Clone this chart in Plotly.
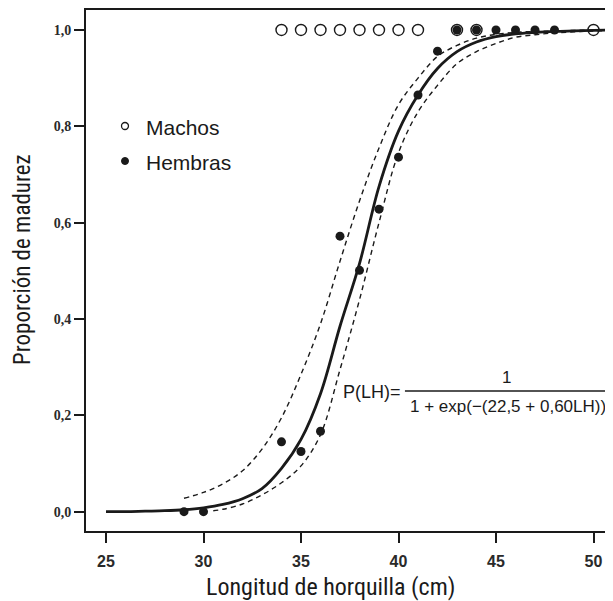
import plotly.graph_objects as go

# Observed proportions
hembras_x = [29, 30, 34, 35, 36, 37, 38, 39, 40, 41, 42, 43, 44, 45, 46, 47, 48]
hembras_y = [0.0, 0.0, 0.145, 0.125, 0.167, 0.572, 0.501, 0.628, 0.736, 0.865, 0.956,
             1.0, 1.0, 1.0, 1.0, 1.0, 1.0]
machos_x = [34, 35, 36, 37, 38, 39, 40, 41, 43, 44, 50]
machos_y = [1.0, 1.0, 1.0, 1.0, 1.0, 1.0, 1.0, 1.0, 1.0, 1.0, 1.0]

# Fitted curve
fit_x = [25, 26, 27, 28, 29, 30, 31, 32, 33, 34, 35, 36, 37, 38, 39, 40, 41, 42, 43,
         44, 45, 46, 47, 48, 49, 50, 51]
fit_y = [0.000, 0.000, 0.001, 0.002, 0.004, 0.008, 0.015, 0.027, 0.048, 0.090, 0.150,
         0.245, 0.385, 0.515, 0.675, 0.790, 0.865, 0.920, 0.955, 0.975, 0.986, 0.992,
         0.995, 0.997, 0.998, 0.999, 1.000]

# Confidence bands
upper_x = [29, 30, 31, 32, 33, 34, 35, 36, 37, 38, 39, 40, 41, 42, 43, 44, 45, 46, 47,
           48, 49, 50, 51]
upper_y = [0.028, 0.040, 0.058, 0.085, 0.130, 0.195, 0.285, 0.390, 0.520, 0.645, 0.755,
           0.845, 0.900, 0.945, 0.968, 0.983, 0.991, 0.995, 0.997, 0.998, 0.999, 1.0, 1.0]
lower_x = [30.5, 31, 32, 33, 34, 35, 36, 37, 38, 39, 40, 41, 42, 43, 44, 45, 46, 47, 48,
           49, 50, 51]
lower_y = [0.002, 0.005, 0.016, 0.035, 0.060, 0.095, 0.160, 0.295, 0.440, 0.600, 0.745,
           0.830, 0.885, 0.930, 0.955, 0.972, 0.985, 0.990, 0.994, 0.996, 0.998, 0.999]

x_ticks = [25, 30, 35, 40, 45, 50]
y_ticks = [0.0, 0.2, 0.4, 0.6, 0.8, 1.0]

INK = "#1a1a1a"
NARROW = "Liberation Sans Narrow, Arial Narrow, Roboto Condensed, sans-serif"
SANS = "Liberation Sans, Arial, sans-serif"

# page has an 8px body margin; figure sized so the plot lands where the reference has it
OFF = 8
ML, MT, MR = 86 - OFF, 10 - OFF, 0
W, H = 613 - OFF, 601 - OFF
MB = H - (531 - OFF)
PW, PH = W - ML - MR, H - MT - MB


def px(xp):
    return (xp - 86) / PW


def py(yp):
    return (531 - yp) / PH


fig = go.Figure()
for bx, by in [(upper_x, upper_y), (lower_x, lower_y)]:
    fig.add_trace(go.Scatter(x=bx, y=by, mode="lines", line_shape="spline",
                             line=dict(color=INK, width=1.4, dash="5px,4px"),
                             showlegend=False, hoverinfo="skip"))
fig.add_trace(go.Scatter(x=fit_x, y=fit_y, mode="lines", line_shape="spline",
                         line=dict(color=INK, width=2.8), showlegend=False))
fig.add_trace(go.Scatter(x=machos_x, y=machos_y, mode="markers", name="Machos",
                         marker=dict(symbol="circle-open", size=11, color=INK,
                                     line=dict(width=1.4, color=INK)),
                         showlegend=False))
fig.add_trace(go.Scatter(x=hembras_x, y=hembras_y, mode="markers", name="Hembras",
                         marker=dict(symbol="circle", size=9, color=INK),
                         showlegend=False))

# Legend drawn manually
fig.add_shape(type="circle", xref="paper", yref="paper",
              x0=px(125 - 3.5), x1=px(125 + 3.5), y0=py(126 + 3.5), y1=py(126 - 3.5),
              line=dict(color=INK, width=1.3), fillcolor="white")
fig.add_shape(type="circle", xref="paper", yref="paper",
              x0=px(125 - 3.5), x1=px(125 + 3.5), y0=py(161 + 3.5), y1=py(161 - 3.5),
              line=dict(color=INK, width=1), fillcolor=INK)
fig.add_annotation(text="Machos", xref="paper", yref="paper",
                   x=px(144), y=py(127), xanchor="left", yanchor="middle",
                   showarrow=False, font=dict(family=SANS, size=21, color=INK))
fig.add_annotation(text="Hembras", xref="paper", yref="paper",
                   x=px(144), y=py(162), xanchor="left", yanchor="middle",
                   showarrow=False, font=dict(family=SANS, size=21, color=INK))

# Equation
fig.add_annotation(text="P(LH)=", x=40.25, y=0.249, xref="x", yref="y",
                   xanchor="right", yanchor="middle", showarrow=False,
                   font=dict(family=SANS, size=18, color=INK))
fig.add_annotation(text="1", x=45.55, y=0.279, xref="x", yref="y",
                   xanchor="center", yanchor="middle", showarrow=False,
                   font=dict(family=SANS, size=17, color=INK))
fig.add_annotation(text="1 + exp(\u2212(22,5 + 0,60LH))", x=45.6, y=0.219, xref="x", yref="y",
                   xanchor="center", yanchor="middle", showarrow=False,
                   font=dict(family=SANS, size=17, color=INK))
fig.add_shape(type="line", xref="x", yref="y", x0=40.33, x1=50.74, y0=0.2506, y1=0.2506,
              line=dict(color=INK, width=1.5))

# Axis titles
fig.add_annotation(text="Longitud de horquilla (cm)", xref="paper", yref="paper",
                   x=px(330), y=py(587), xanchor="center", yanchor="middle",
                   showarrow=False, font=dict(family=NARROW, size=24, color=INK))
fig.add_annotation(text="Proporción de madurez", xref="paper", yref="paper",
                   x=px(22), y=py(260), xanchor="center", yanchor="middle", textangle=-90,
                   showarrow=False, font=dict(family=NARROW, size=23, color=INK))

fig.update_layout(
    width=W, height=H,
    margin=dict(l=ML, r=MR, t=MT, b=MB, autoexpand=False),
    paper_bgcolor="white", plot_bgcolor="white",
    separators=",.",
    showlegend=False,
)
fig.update_xaxes(
    range=[23.974, 51.0], tickvals=x_ticks, ticks="outside", ticklen=10, tickwidth=1.5,
    tickcolor=INK, showline=True, linecolor=INK, linewidth=2, mirror=True,
    showgrid=False, zeroline=False, automargin=False, ticklabelstandoff=5,
    tickfont=dict(family=SANS, size=16, color="#2a2a2a", weight="bold"),
)
fig.update_yaxes(
    range=[-0.0401, 1.0415], tickvals=y_ticks, tickformat=".1f", ticks="outside",
    ticklen=10, tickwidth=1.5, tickcolor=INK, showline=True, linecolor=INK, linewidth=2,
    mirror=False, showgrid=False, zeroline=False, automargin=False,
    tickfont=dict(family="Liberation Serif, serif", size=14, color="#2a2a2a", weight="bold"),
)

fig.write_html("out.html")
